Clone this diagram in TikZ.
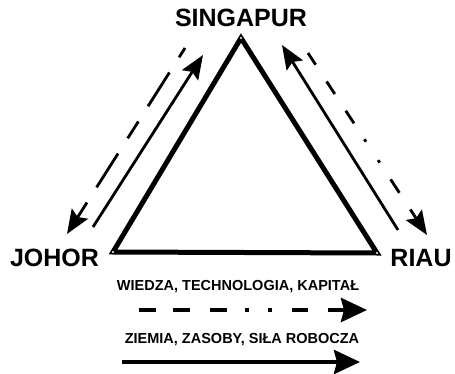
\documentclass[tikz,border=0pt]{standalone}
\usepackage{fontspec}
\setmainfont{Liberation Sans}
\usetikzlibrary{arrows.meta}
\begin{document}
\begin{tikzpicture}[x=1pt,y=1pt,
  place/.style={font=\bfseries\fontsize{25}{25}\selectfont,inner sep=0pt,text height=17.9pt,text depth=0pt},
  legend/.style={font=\bfseries\fontsize{14.5}{14.5}\selectfont,inner sep=0pt,text height=10.4pt,text depth=0pt},
  side/.style={line width=5pt,line join=miter},
  flow/.style={line width=2.8pt,-{Stealth[length=24pt,width=19pt,inset=4pt]}},
  legflow/.style={line width=4.3pt,-{Stealth[length=26pt,width=24pt,inset=3pt]}},
  corner/.style={circle,fill=white,inner sep=0pt,minimum size=2.2pt}
]
\useasboundingbox (0,0) rectangle (455,373);
% triangle
\coordinate (T) at (241,335);
\coordinate (BL) at (113,121);
\coordinate (BR) at (377,120);
\draw[side] (T) -- (BL) -- (BR) -- cycle;
\node[corner] (cT) at (T) {};
\node[corner] (cL) at (BL) {};
\node[corner] (cR) at (BR) {};
% labels
\node[place] (sing) at (241,355) {SINGAPUR};
\node[place] (joh) at (54.5,115) {JOHOR};
\node[place] (riau) at (421,115) {RIAU};
\node[legend] (l1) at (238,88) {WIEDZA, TECHNOLOGIA, KAPITAŁ};
\node[legend] (l2) at (242,35) {ZIEMIA, ZASOBY, SIŁA ROBOCZA};
% left side arrows
\coordinate (ls0) at (93,146);
\coordinate (ls1) at (203,318);
\draw[flow] (ls0) -- (ls1);
\coordinate (ld0) at (185,325);
\coordinate (ld1) at (67,139);
\draw[flow,dash pattern=on 11pt off 18pt on 40pt off 18pt on 20pt off 18pt on 40pt off 18pt on 60pt] (ld0) -- (ld1);
% right side arrows
\coordinate (rs0) at (398,143);
\coordinate (rs1) at (282,328);
\draw[flow] (rs0) -- (rs1);
\coordinate (rd0) at (308,320);
\coordinate (rd1) at (427,138);
\draw[flow,dash pattern=on 14pt off 20pt on 15pt off 20pt on 15pt off 19pt on 3pt off 22pt on 3pt off 20pt on 16pt off 20pt on 60pt] (rd0) -- (rd1);
% legend arrows
\coordinate (a0) at (139,63);
\coordinate (a1) at (367,63);
\draw[legflow,dash pattern=on 17pt off 17pt on 17pt off 20pt on 17pt off 18pt on 4pt off 19pt on 4pt off 20pt on 16pt off 20pt on 60pt] (a0) -- (a1);
\coordinate (b0) at (122,11);
\coordinate (b1) at (360,11);
\draw[legflow] (b0) -- (b1);
\end{tikzpicture}
\end{document}
